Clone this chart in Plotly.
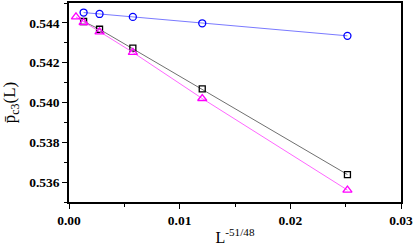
import plotly.graph_objects as go

x_all = [0.02516, 0.01204, 0.00577, 0.00276, 0.00132, 0.00063]

x_circ = x_all[:5]
y_circ = [0.54335, 0.54398, 0.54430, 0.54445, 0.54452]

x_sq = x_all[:5]
y_sq = [0.53638, 0.54068, 0.54273, 0.54368, 0.54407]

x_tri = x_all
y_tri = [0.53560, 0.54020, 0.54252, 0.54355, 0.54402, 0.54430]

fig = go.Figure()
fig.add_trace(go.Scatter(x=x_circ, y=y_circ, mode="lines+markers",
    line=dict(color="#7a7aff", width=1),
    marker=dict(symbol="circle-open", color="#0000ff", size=7, line=dict(width=1.3))))
fig.add_trace(go.Scatter(x=x_sq, y=y_sq, mode="lines+markers",
    line=dict(color="#707070", width=1),
    marker=dict(symbol="square-open", color="#000000", size=6, line=dict(width=1.3))))
fig.add_trace(go.Scatter(x=x_tri, y=y_tri, mode="lines+markers",
    line=dict(color="#ff66ff", width=1),
    marker=dict(symbol="triangle-up-open", color="#ff00ff", size=8, line=dict(width=1.3))))

tickfont = dict(family="Liberation Serif", size=13.5, color="black", weight="bold")
fig.update_layout(
    width=415, height=248,
    margin=dict(l=69, r=14, t=3, b=46),
    paper_bgcolor="white", plot_bgcolor="white",
    showlegend=False,
    xaxis=dict(range=[0, 0.03], tickvals=[0, 0.01, 0.02, 0.03],
               ticktext=["0.00", "0.01", "0.02", "0.03"], automargin=False,
               ticks="outside", ticklen=5, tickwidth=1, tickcolor="black",
               minor=dict(tickvals=[0.005, 0.015, 0.025], ticks="outside", ticklen=3, tickcolor="black"),
               showline=True, linecolor="black", linewidth=1.5, mirror=True,
               showgrid=False, zeroline=False, tickfont=tickfont,
               title=dict(text="L<sup>-51/48</sup>", font=dict(family="Liberation Serif", size=16, color="black"), standoff=5)),
    yaxis=dict(range=[0.535, 0.545], tickvals=[0.536, 0.538, 0.540, 0.542, 0.544],
               ticktext=["0.536", "0.538", "0.540", "0.542", "0.544"], automargin=False,
               ticks="outside", ticklen=5, tickwidth=1, tickcolor="black",
               minor=dict(tickvals=[0.535, 0.537, 0.539, 0.541, 0.543, 0.545], ticks="outside", ticklen=3, tickcolor="black"),
               showline=True, linecolor="black", linewidth=1.5, mirror=True,
               showgrid=False, zeroline=False, tickfont=tickfont,
               title=dict(text="p\u0304<sub>c3</sub>(L)", font=dict(family="Liberation Serif", size=17, color="black"), standoff=9)),
)
fig.write_html("out.html", config={"displayModeBar": False},
               post_script="document.body.style.margin='0';document.body.style.overflow='hidden';")
